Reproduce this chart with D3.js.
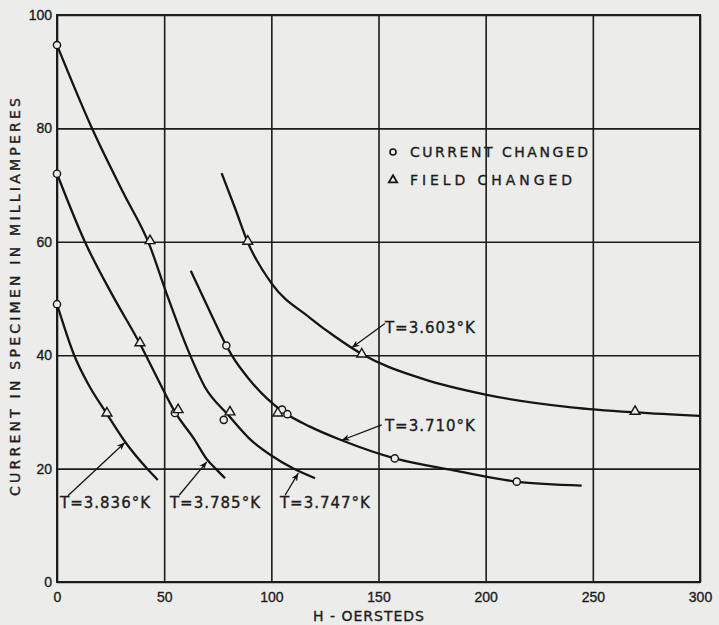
<!DOCTYPE html>
<html>
<head>
<meta charset="utf-8">
<script src="https://cdn.jsdelivr.net/npm/d3@7"></script>
<style>
  body { margin: 0; background: #ececea; }
  svg { display: block; font-family: "DejaVu Sans", sans-serif; }
  svg text { stroke: #1c1c1c; stroke-width: 0.35; }
  .grid line { stroke: #1c1c1c; stroke-width: 1.6; }
  .grid path { display: none; }
  .grid text { font-size: 14px; fill: #1c1c1c; }
</style>
</head>
<body>
<div class="chart"></div>
<script>
// Ticks.
const xTicks = [0, 50, 100, 150, 200, 250, 300];
const yTicks = [0, 20, 40, 60, 80, 100];

// Curves: [H in oersteds, current in mA].
const curve3836 = [[0, 49], [8, 40], [15, 34.6], [23, 29.8], [32, 24.6], [42, 20], [47, 18]];
const curve3785 = [[0, 72], [13, 60], [26, 50.5], [39, 41.8], [47, 35.8], [55, 30], [64, 25.2], [70, 21.6], [74, 20], [78.4, 18.3]];
const curve3747 = [[0, 94.7], [16, 80.3], [31, 68.6], [43, 59.6], [51, 51], [61, 41], [69, 34.4], [80, 29.4], [90, 25.2], [100, 22.3], [110.3, 20], [120.4, 18.3]];
const curve3710 = [[62.4, 54.9], [70.6, 48.3], [79, 41.7], [81.5, 40], [90, 35.6], [104.8, 30.2], [118, 27.4], [132.8, 25], [157.6, 21.8], [185, 19.7], [214.5, 17.7], [244.8, 17]];
const curve3603 = [[76.8, 72.1], [83, 66], [89, 59.9], [100, 52.7], [118, 46.6], [130, 43.2], [142.2, 40.2], [170, 35.9], [200.5, 33], [240, 30.8], [270, 29.9], [300, 29.3]];

// Measured points.
const currentChanged = [[0, 94.7], [0, 72], [0, 49], [55, 29.8], [77.8, 28.6], [79, 41.7], [105, 30.4], [107.5, 29.6], [157.6, 21.8], [214.5, 17.7]];
const fieldChanged = [[23.3, 29.6], [38.7, 42], [43.4, 60], [56.5, 30.2], [80.7, 29.8], [89, 59.9], [103, 29.6], [142.2, 40], [269.7, 29.9]];

// Temperature labels: text, text position, arrow tail, arrow tip.
const labels = ["T=3.836°K", "T=3.785°K", "T=3.747°K", "T=3.710°K", "T=3.603°K"];
const labelPos = [[1.4, 13], [52.7, 13], [104, 13], [153, 26.7], [153, 43.9]];
const arrowTail = [[5.1, 15.2], [57, 15.3], [106.4, 15.3], [151.5, 27.7], [153, 45.6]];
const arrowTip = [[31.7, 24.6], [69.9, 21.2], [112.6, 19.2], [132.8, 25], [137.5, 41.3]];

const legendItems = ["CURRENT  CHANGED", "FIELD  CHANGED"];

const W = 719, H = 625;
const svg = d3.select(".chart").append("svg").attr("width", W).attr("height", H);

const x = d3.scaleLinear().domain([0, 300]).range([57, 700]);
const y = d3.scaleLinear().domain([0, 100]).range([582, 15]);
const plotW = x(300) - x(0), plotH = y(0) - y(100);

// Grid and ticks.
svg.append("g")
  .attr("class", "grid")
  .attr("transform", `translate(0,${y(0)})`)
  .call(d3.axisBottom(x).tickValues(xTicks).tickSizeInner(-plotH).tickSizeOuter(0).tickPadding(8))
  .selectAll("text").attr("dy", "0.85em");

svg.append("g")
  .attr("class", "grid")
  .attr("transform", `translate(${x(0)},0)`)
  .call(d3.axisLeft(y).tickValues(yTicks).tickSizeInner(-plotW).tickSizeOuter(0).tickPadding(5));

svg.append("rect")
  .attr("x", x(0)).attr("y", y(100))
  .attr("width", plotW).attr("height", plotH)
  .attr("fill", "none").attr("stroke", "#1c1c1c").attr("stroke-width", 2);

// Axis titles.
svg.append("text")
  .attr("x", 369).attr("y", 621)
  .attr("text-anchor", "middle")
  .attr("font-size", 14).attr("fill", "#1c1c1c")
  .attr("letter-spacing", 1)
  .text("H - OERSTEDS");

svg.append("text")
  .attr("transform", `translate(20, 297) rotate(-90)`)
  .attr("text-anchor", "middle")
  .attr("font-size", 14).attr("fill", "#1c1c1c")
  .attr("textLength", 398).attr("lengthAdjust", "spacing")
  .text("CURRENT IN SPECIMEN IN MILLIAMPERES");

// Curves.
const line = d3.line()
  .x((d) => x(d[0]))
  .y((d) => y(d[1]))
  .curve(d3.curveMonotoneX);

svg.append("g")
  .selectAll("path")
  .data([curve3836, curve3785, curve3747, curve3710, curve3603])
  .join("path")
  .attr("d", line)
  .attr("fill", "none")
  .attr("stroke", "#151515")
  .attr("stroke-width", 2.3);

// Markers.
svg.append("g")
  .selectAll("circle")
  .data(currentChanged)
  .join("circle")
  .attr("cx", (d) => x(d[0]))
  .attr("cy", (d) => y(d[1]))
  .attr("r", 3.6)
  .attr("fill", "#ececea")
  .attr("stroke", "#151515")
  .attr("stroke-width", 1.4);

const tri = d3.symbol().type(d3.symbolTriangle).size(42);
svg.append("g")
  .selectAll("path")
  .data(fieldChanged)
  .join("path")
  .attr("transform", (d) => `translate(${x(d[0])},${y(d[1]) - 1})`)
  .attr("d", tri)
  .attr("fill", "#ececea")
  .attr("stroke", "#151515")
  .attr("stroke-width", 1.4);

// Arrows and labels.
svg.append("defs")
  .append("marker")
  .attr("id", "head")
  .attr("viewBox", "0 0 10 10")
  .attr("refX", 10).attr("refY", 5)
  .attr("markerWidth", 8).attr("markerHeight", 8)
  .attr("markerUnits", "userSpaceOnUse")
  .attr("orient", "auto")
  .append("path")
  .attr("d", "M0,1 L10,5 L0,9 L3,5 Z")
  .attr("fill", "#151515");

const annots = svg.append("g");
labels.forEach((t, i) => {
  annots.append("line")
    .attr("x1", x(arrowTail[i][0])).attr("y1", y(arrowTail[i][1]))
    .attr("x2", x(arrowTip[i][0])).attr("y2", y(arrowTip[i][1]))
    .attr("stroke", "#151515").attr("stroke-width", 1.3)
    .attr("marker-end", "url(#head)");
  annots.append("text")
    .attr("x", x(labelPos[i][0])).attr("y", y(labelPos[i][1]))
    .attr("font-size", 15).attr("fill", "#1c1c1c")
    .attr("letter-spacing", 1)
    .text(t);
});

// Legend.
const legend = svg.append("g").attr("transform", "translate(393,152)");
legend.append("circle").attr("r", 3).attr("fill", "none")
  .attr("stroke", "#151515").attr("stroke-width", 1.6);
legend.append("path").attr("transform", "translate(0,28)")
  .attr("d", d3.symbol().type(d3.symbolTriangle).size(30))
  .attr("fill", "none").attr("stroke", "#151515").attr("stroke-width", 1.8);
legend.selectAll("text.leg")
  .data(legendItems)
  .join("text")
  .attr("class", "leg")
  .attr("x", 17)
  .attr("y", (d, i) => 5 + i * 28)
  .attr("font-size", 14).attr("fill", "#1c1c1c")
  .attr("textLength", (d, i) => (i === 0 ? 178 : 162))
  .attr("lengthAdjust", "spacing")
  .text((d) => d);
</script>
</body>
</html>
